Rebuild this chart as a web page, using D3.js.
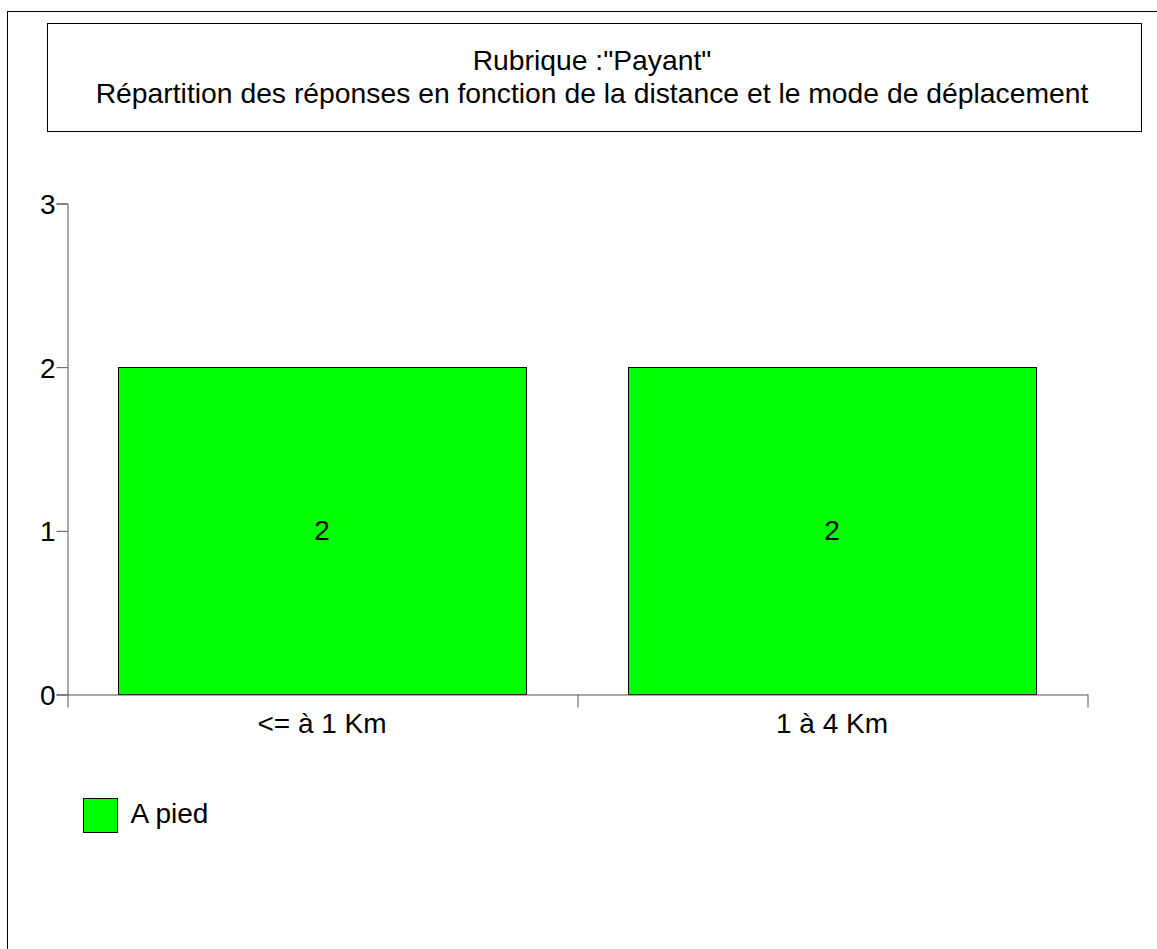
<!DOCTYPE html>
<html>
<head>
<meta charset="utf-8">
<script src="https://cdn.jsdelivr.net/npm/d3@7"></script>
<style>
  body { margin: 0; background: #fff; }
  text { font-family: "Liberation Sans", Arial, sans-serif; fill: #000; }
</style>
</head>
<body>
<div id="chart"></div>
<script>
// data
var categories = ["<= à 1 Km", "1 à 4 Km"];
var seriesNames = ["A pied"];
var seriesValues = [2, 2];
var yTicks = [0, 1, 2, 3];
var titleLines = ["Rubrique :\"Payant\"", "Répartition des réponses en fonction de la distance et le mode de déplacement"];
var barColor = "#00ff00";

var w = 1157, h = 949;
var plotLeft = 67, plotRight = 1087, plotTop = 203, plotBottom = 694;
var fontSize = "28px";

var svg = d3.select("#chart").append("svg")
  .attr("width", w)
  .attr("height", h);

// outer frame (runs off the page right and bottom)
svg.append("rect")
  .attr("x", 7.5).attr("y", 11.5)
  .attr("width", 1200).attr("height", 1000)
  .attr("fill", "#fff").attr("stroke", "#000").attr("stroke-width", 1);

// title box
svg.append("rect")
  .attr("x", 47.5).attr("y", 23.5)
  .attr("width", 1094).attr("height", 108)
  .attr("fill", "#fff").attr("stroke", "#000").attr("stroke-width", 1);

svg.selectAll(".title")
  .data(titleLines)
  .enter().append("text")
  .attr("class", "title")
  .attr("x", 592)
  .attr("y", function(d, i) { return 70 + i * 33; })
  .attr("text-anchor", "middle")
  .style("font-size", "28.3px")
  .text(function(d) { return d; });

var x = d3.scaleBand()
  .domain(categories)
  .range([plotLeft, plotRight])
  .paddingInner(0.2)
  .paddingOuter(0.1);

var y = d3.scaleLinear()
  .domain([0, 3])
  .range([plotBottom, plotTop]);

// bars
svg.selectAll(".bar")
  .data(seriesValues)
  .enter().append("rect")
  .attr("class", "bar")
  .attr("x", function(d, i) { return Math.round(x(categories[i])) + 0.5; })
  .attr("y", function(d) { return Math.round(y(d)) + 0.5; })
  .attr("width", x.bandwidth())
  .attr("height", function(d) { return Math.round(y(0)) - Math.round(y(d)); })
  .attr("fill", barColor)
  .attr("stroke", "#000")
  .attr("stroke-width", 1);

// value labels
svg.selectAll(".val")
  .data(seriesValues)
  .enter().append("text")
  .attr("class", "val")
  .attr("x", function(d, i) { return x(categories[i]) + x.bandwidth() / 2; })
  .attr("y", function(d) { return (y(d) + y(0)) / 2 + 10; })
  .attr("text-anchor", "middle")
  .style("font-size", fontSize)
  .text(function(d) { return d; });

// y axis
var yAxis = d3.axisLeft(y).tickValues(yTicks).tickSize(11).tickPadding(1).tickFormat(d3.format("d"));
var gy = svg.append("g")
  .attr("transform", "translate(" + (plotLeft + 0.5) + ",0.5)")
  .call(yAxis);
gy.select(".domain").attr("stroke", "#555");
gy.selectAll(".tick line").attr("stroke", "#555");
gy.selectAll(".tick text").style("font-size", fontSize).attr("dy", "0.36em")
  .style("font-family", "Liberation Sans, Arial, sans-serif").attr("fill", "#000");

// x axis: ticks at category boundaries
var boundaries = [plotLeft];
categories.forEach(function(c, i) { if (i > 0) boundaries.push(x(c) - x.step() * x.paddingInner() / 2); });
boundaries.push(plotRight);
var xLin = d3.scaleLinear().domain([plotLeft, plotRight]).range([plotLeft, plotRight]);
var xAxis = d3.axisBottom(xLin).tickValues(boundaries).tickSize(13).tickSizeOuter(0).tickFormat("");
var gx = svg.append("g")
  .attr("transform", "translate(0.5," + (plotBottom + 0.5) + ")")
  .call(xAxis);
gx.select(".domain").attr("stroke", "#555");
gx.selectAll(".tick line").attr("stroke", "#555");

svg.selectAll(".cat")
  .data(categories)
  .enter().append("text")
  .attr("class", "cat")
  .attr("x", function(d) { return x(d) + x.bandwidth() / 2; })
  .attr("y", 733)
  .attr("text-anchor", "middle")
  .style("font-size", fontSize)
  .text(function(d) { return d; });

// legend
var lg = svg.selectAll(".legend")
  .data(seriesNames)
  .enter().append("g")
  .attr("class", "legend")
  .attr("transform", function(d, i) { return "translate(83.5," + (798.5 + i * 40) + ")"; });
lg.append("rect")
  .attr("width", 34).attr("height", 34)
  .attr("fill", barColor).attr("stroke", "#000");
lg.append("text")
  .attr("x", 47).attr("y", 24)
  .style("font-size", fontSize)
  .text(function(d) { return d; });
</script>
</body>
</html>
